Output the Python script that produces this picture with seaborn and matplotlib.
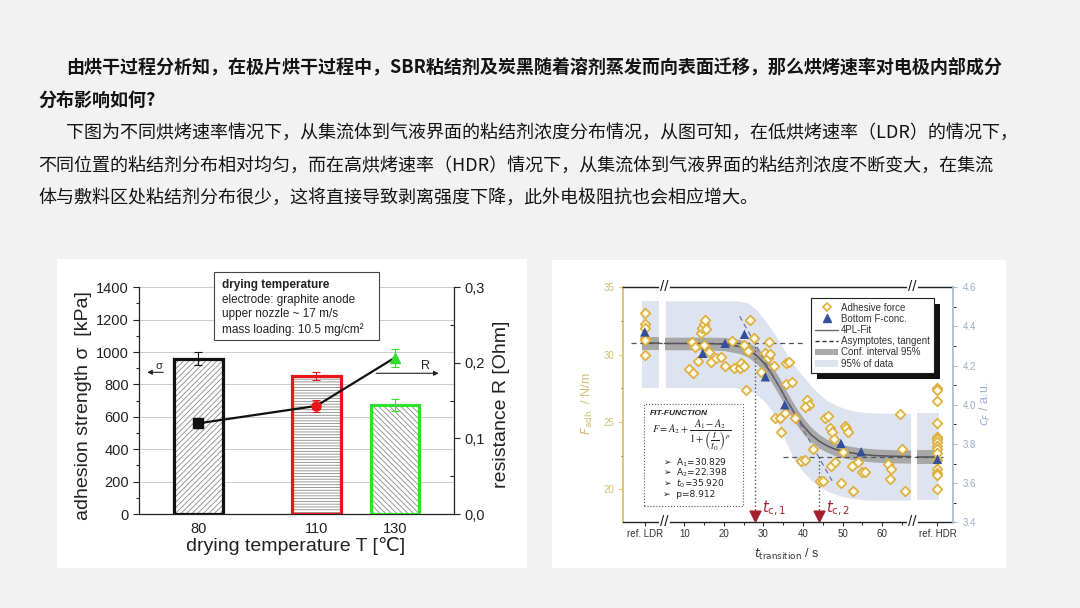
import matplotlib
matplotlib.use("Agg")
import matplotlib.pyplot as plt
from matplotlib.patches import Rectangle, Patch
from matplotlib.lines import Line2D
from matplotlib.ticker import MultipleLocator, FixedLocator
from matplotlib.transforms import IdentityTransform
import seaborn as sns
import pandas as pd

sns.set_theme(style="ticks")
plt.rcParams['font.family'] = ['Liberation Sans', 'DejaVu Sans']
plt.rcParams['hatch.linewidth'] = 0.6

W, H = 1080, 608


def fx(x):
    return x / W


def fy(y):
    return 1 - y / H


# slide text
text_lines = [
    "由烘干过程分析知，在极片烘干过程中，SBR粘结剂及炭黑随着溶剂蒸发而向表面迁移，那么烘烤速率对电极内部成分",
    "分布影响如何?",
    "下图为不同烘烤速率情况下，从集流体到气液界面的粘结剂浓度分布情况，从图可知，在低烘烤速率（LDR）的情况下，",
    "不同位置的粘结剂分布相对均匀，而在高烘烤速率（HDR）情况下，从集流体到气液界面的粘结剂浓度不断变大，在集流",
    "体与敷料区处粘结剂分布很少，这将直接导致剥离强度下降，此外电极阻抗也会相应增大。",
]
text_x = [66, 38, 66, 38, 38]
text_y = [67, 100, 133, 166, 198]
text_bold = [True, True, False, False, False]

# left chart: adhesion strength and resistance vs drying temperature
temps = [80, 110, 130]
strength = [960, 855, 675]
strength_err = [38, 25, 37]
resist = [0.120, 0.143, 0.207]
resist_err = [0.0065, 0.008, 0.012]
bar_colors = ['#111111', '#e8151b', '#2fe02f']
bar_hatches = ['//////', '------', '\\\\\\\\\\\\']
res_markers = ['s', 'o', '^']
info_lines = ["drying temperature", "electrode: graphite anode",
              "upper nozzle ~ 17 m/s", "mass loading: 10.5 mg/cm²"]

# right chart: adhesive force vs transition time
adh_t = [0, 0, 0, 0, 0, 0,
         11.1, 12.3, 12.0, 12.6, 13.4, 14.3, 14.5, 14.9, 15.3, 15.5, 15.1, 16.35,
         16.8, 17.9, 19.4, 20.2, 22.0, 22.5, 25.0, 24.0, 24.4, 25.05, 25.7, 26.5,
         27.6, 26.2, 29.5, 30.3, 31.1, 31.6, 31.4, 32.7, 35.8, 36.4, 35.8, 37.1,
         40.9, 41.5, 40.5, 32.8, 34.1, 35.4, 34.55, 37.9, 45.5, 46.4, 46.8, 47.4,
         47.8, 50.6, 51.0, 51.3, 42.6, 39.6, 40.5, 50.2, 47.2, 48.0, 52.3, 54.0,
         44.4, 45.1, 49.5, 52.7, 55.0, 55.7, 61.4, 62.2, 62.0, 64.4, 65.0, 65.8,
         74, 74, 74, 74, 74, 74, 74, 74, 74, 74, 74, 74, 74, 74, 74]
adh_f = [33.1, 32.25, 32.0, 31.2, 31.1, 29.97,
         28.9, 28.6, 30.96, 30.6, 29.55, 31.6, 31.95, 32.3, 32.6, 31.9, 30.7, 30.22,
         29.45, 29.77, 29.85, 29.16, 31.0, 29.0, 30.7, 29.0, 29.36, 29.18, 27.38, 32.6,
         31.26, 30.3, 28.7, 30.1, 29.73, 30.03, 30.96, 29.18, 29.36, 29.48, 27.8, 27.95,
         26.63, 26.26, 26.14, 25.3, 25.3, 25.65, 24.28, 25.27, 25.3, 25.45, 24.53, 24.28,
         23.74, 24.73, 24.53, 24.28, 23.0, 22.1, 22.15, 22.8, 21.75, 22.05, 21.7, 22.05,
         20.6, 20.6, 20.5, 19.9, 21.3, 21.3, 21.9, 21.5, 20.8, 25.6, 23.0, 19.9,
         27.55, 27.4, 26.55, 24.9, 23.9, 23.75, 23.5, 23.2, 23.0, 22.7, 22.2, 21.5,
         21.2, 21.05, 20.0]
conc_t = [0, 14.65, 20.3, 25.2, 30.5, 35.4, 49.6, 54.7, 74]
conc_c = [4.372, 4.263, 4.314, 4.360, 4.143, 4.000, 3.803, 3.760, 3.722]

fit_t = [5, 15, 20, 24, 26, 28, 30, 32, 34, 36, 38, 40, 42, 44, 46, 48, 50, 54, 58, 62, 67.2]
fit_f = [30.83, 30.83, 30.78, 30.60, 30.38, 30.00, 29.42, 28.61, 27.63, 26.57, 25.58,
         24.73, 24.07, 23.59, 23.24, 22.99, 22.82, 22.62, 22.51, 22.46, 22.43]
conf_hi = [31.30, 31.30, 31.28, 31.12, 30.93, 30.60, 30.05, 29.25, 28.28, 27.20, 26.20,
           25.33, 24.62, 24.10, 23.72, 23.47, 23.30, 23.10, 23.00, 22.95, 22.92]
conf_lo = [30.36, 30.36, 30.30, 30.08, 29.83, 29.40, 28.80, 27.97, 26.98, 25.94, 24.96,
           24.13, 23.52, 23.08, 22.76, 22.51, 22.34, 22.14, 22.02, 21.97, 21.94]
band_t = [5.2, 23, 26, 28, 30, 32, 34, 36, 38, 40, 42, 44, 46, 48, 50, 53, 56, 60, 67.2]
band_hi = [34.0, 34.0, 33.85, 33.4, 32.7, 31.9, 31.0, 30.0, 29.1, 28.4, 27.7, 27.1,
           26.6, 26.3, 26.05, 25.8, 25.7, 25.65, 25.65]
band_lo = [27.55, 27.55, 27.4, 27.1, 26.6, 25.9, 24.7, 23.3, 22.1, 21.3, 20.7, 20.2,
           19.9, 19.65, 19.45, 19.3, 19.2, 19.2, 19.2]
ldr_span, hdr_span = [-0.6, 3.7], [68.8, 74.5]
ldr_band, hdr_band = [27.55, 34.0], [19.2, 25.65]
ldr_conf, hdr_conf = [30.35, 31.3], [21.9, 22.9]
A1, A2 = 30.83, 22.40
tangent_t = [24.0, 47.6]
tangent_f = [32.85, 20.5]
tc = [27.86, 43.98]
x_tick_pos = [0, 10, 20, 30, 40, 50, 60, 74]
x_tick_lab = ['ref. LDR', '10', '20', '30', '40', '50', '60', 'ref. HDR']

gold = '#dcc263'
gold_txt = '#cfc070'
steel = '#a9bcd6'
band_col = '#dde3ef'
conf_col = '#a8a8a8'

fig = plt.figure(figsize=(10.8, 6.08), dpi=100, facecolor='#f2f2f2')

# white panels behind the two charts
fig.add_artist(Rectangle((fx(57), fy(568)), fx(527) - fx(57), fy(259) - fy(568),
                         transform=fig.transFigure, fc='white', ec='none', zorder=-1))
fig.add_artist(Rectangle((fx(552), fy(568)), fx(1006) - fx(552), fy(260.5) - fy(568),
                         transform=fig.transFigure, fc='white', ec='none', zorder=-1))

for line, x, y, b in zip(text_lines, text_x, text_y, text_bold):
    fig.text(fx(x), fy(y), line, fontsize=13, color='#141414', va='center', ha='left',
             family=['Noto Sans CJK SC', 'DejaVu Sans'],
             fontweight='bold' if b else 'normal')

# ---------- left chart ----------
ax1 = fig.add_axes([fx(139.3), fy(514), (454 - 139.3) / W, (514 - 287.3) / H])
df1 = pd.DataFrame({'T': temps, 'sigma': strength})
sns.barplot(data=df1, x='T', y='sigma', native_scale=True, width=0.62, color='white',
            errorbar=None, ax=ax1, zorder=2)
for patch, hatch in zip(ax1.patches, bar_hatches):
    patch.set_facecolor('white')
    patch.set_hatch(hatch)
    patch.set_edgecolor('#8a8a8a')
    patch.set_linewidth(0)
ax1.bar(temps, strength, width=12.4, fill=False, edgecolor=bar_colors, linewidth=2.3, zorder=3)
for t, s, e, c in zip(temps, strength, strength_err, bar_colors):
    ax1.errorbar(t, s, yerr=e, color=c, capsize=3, elinewidth=0.8, capthick=0.8, zorder=4)

ax1.set_xlim(65, 145)
ax1.set_ylim(0, 1400)
ax1.set_xticks(temps)
ax1.yaxis.set_major_locator(MultipleLocator(200))
ax1.yaxis.set_minor_locator(MultipleLocator(100))
ax1.set_axisbelow(True)
ax1.yaxis.grid(True, color='#cccccc', lw=0.7)
ax1.tick_params(axis='both', labelsize=10.5, colors='#222', length=4, width=0.8)
ax1.tick_params(axis='y', which='minor', length=2.5, width=0.8)
ax1.tick_params(axis='x', length=0, pad=6)
for sp in ['top', 'right']:
    ax1.spines[sp].set_visible(False)
for sp in ['left', 'bottom']:
    ax1.spines[sp].set_color('#222')
    ax1.spines[sp].set_linewidth(0.9)
ax1.set_xlabel('drying temperature T [℃]', fontsize=14, color='#222')
ax1.set_ylabel('adhesion strength σ  [kPa]', fontsize=14, color='#222')
ax1.xaxis.set_label_coords(0.495, -0.1)
ax1.yaxis.set_label_coords(-0.15, 0.478)

ax1.annotate('', xy=(66.3, 875), xytext=(71.8, 875),
             arrowprops=dict(arrowstyle='-|>', color='#222', lw=0.8, mutation_scale=7))
ax1.text(70, 912, 'σ', fontsize=8, color='#222', ha='center', va='center')
ax1.annotate('', xy=(141.8, 869), xytext=(124.5, 869),
             arrowprops=dict(arrowstyle='-|>', color='#222', lw=0.8, mutation_scale=7))
ax1.text(137.8, 912, 'R', fontsize=9, color='#222', ha='center', va='center')

ax1r = ax1.twinx()
sns.lineplot(x=temps, y=resist, ax=ax1r, color='#111', lw=1.6, zorder=3)
for t, r, e, c, m in zip(temps, resist, resist_err, bar_colors, res_markers):
    ax1r.errorbar(t, r, yerr=e, fmt=m, color=c, ms=6.5, capsize=3, elinewidth=0.8,
                  capthick=0.8, zorder=4)
ax1r.set_ylim(0, 0.3)
ax1r.yaxis.set_major_locator(FixedLocator([0, 0.1, 0.2, 0.3]))
ax1r.set_yticklabels(['0,0', '0,1', '0,2', '0,3'])
ax1r.yaxis.set_minor_locator(MultipleLocator(0.05))
ax1r.tick_params(axis='y', labelsize=10.5, colors='#222', length=4, width=0.8)
ax1r.tick_params(axis='y', which='minor', direction='in', length=3, width=0.8)
for sp in ['top', 'left', 'bottom']:
    ax1r.spines[sp].set_visible(False)
ax1r.spines['right'].set_color('#222')
ax1r.spines['right'].set_linewidth(0.9)
ax1r.set_ylabel('resistance R [Ohm]', fontsize=14, color='#222')
ax1r.yaxis.set_label_coords(1.125, 0.485)

# info box over the top of the left chart
fig.add_artist(Rectangle((fx(214), fy(339.5)), fx(379) - fx(214), fy(271.7) - fy(339.5),
                         transform=fig.transFigure, fc='white', ec='#444', lw=0.8, zorder=10))
for i, s in enumerate(info_lines):
    fig.text(fx(222.5), fy(285 + 14.7 * i), s, fontsize=8.5, color='#222', va='center',
             ha='left', fontweight='bold' if i == 0 else 'normal', zorder=11)

# ---------- right chart ----------
ax2 = fig.add_axes([fx(623), fy(522.3), (953.3 - 623) / W, (522.3 - 287.3) / H])
ax2.set_facecolor('white')
ax2.fill_between(band_t, band_lo, band_hi, color=band_col, lw=0, zorder=1)
ax2.fill_between(ldr_span, ldr_band[0], ldr_band[1], color=band_col, lw=0, zorder=1)
ax2.fill_between(hdr_span, hdr_band[0], hdr_band[1], color=band_col, lw=0, zorder=1)
ax2.fill_between(fit_t, conf_lo, conf_hi, color=conf_col, lw=0, zorder=2)
ax2.fill_between(ldr_span, ldr_conf[0], ldr_conf[1], color=conf_col, lw=0, zorder=2)
ax2.fill_between(hdr_span, hdr_conf[0], hdr_conf[1], color=conf_col, lw=0, zorder=2)
sns.lineplot(x=fit_t, y=fit_f, ax=ax2, color='#555555', lw=1.1, zorder=3)
ax2.plot(ldr_span, [A1, A1], color='#555555', lw=1.1, zorder=3)
ax2.plot(hdr_span, [A2, A2], color='#555555', lw=1.1, zorder=3)
ax2.plot([-3.5, 40.5], [A1, A1], color='#555', lw=0.9, ls=(0, (4, 3)), zorder=3)
ax2.plot([35, 75.5], [A2, A2], color='#555', lw=0.9, ls=(0, (4, 3)), zorder=3)
ax2.plot(tangent_t, tangent_f, color='#6f6fa6', lw=0.9, ls=(0, (4, 3)), zorder=3)
ax2.plot([tc[0], tc[0]], [A1, 18.3], color='#555', lw=1, ls=':', zorder=3)
ax2.plot([tc[1], tc[1]], [A2, 18.3], color='#555', lw=1, ls=':', zorder=3)
sns.scatterplot(x=adh_t, y=adh_f, marker='D', s=24, color='#fffbe6', edgecolor='#deb040',
                linewidth=1.25, ax=ax2, zorder=4)
ax2.scatter(tc, [18.0, 18.0], marker='v', s=60, color='#a3202c', zorder=5, clip_on=False)
ax2.text(29.6, 17.85, r'$t_{\rm c,1}$', fontsize=10.5, color='#a3202c', ha='left', va='bottom')
ax2.text(45.8, 17.85, r'$t_{\rm c,2}$', fontsize=10.5, color='#a3202c', ha='left', va='bottom')

ax2.set_xlim(-5.5, 78)
ax2.set_ylim(17.55, 35)
ax2.set_xticks(x_tick_pos)
ax2.set_xticklabels(x_tick_lab)
ax2.xaxis.set_minor_locator(FixedLocator([5, 15, 25, 35, 45, 55, 65]))
ax2.yaxis.set_major_locator(FixedLocator([20, 25, 30, 35]))
ax2.yaxis.set_minor_locator(FixedLocator([17.5, 22.5, 27.5, 32.5]))
ax2.tick_params(axis='x', labelsize=7, colors='#333', length=3, width=0.8, pad=2)
ax2.tick_params(axis='x', which='minor', length=1.8, width=0.7)
ax2.tick_params(axis='y', labelsize=7, colors=gold, labelcolor=gold_txt, length=3, width=0.8)
ax2.tick_params(axis='y', which='minor', length=1.8, width=0.7)
ax2.spines['left'].set_color(gold)
ax2.spines['left'].set_linewidth(1.3)
ax2.spines['right'].set_visible(False)
for sp in ['top', 'bottom']:
    ax2.spines[sp].set_color('#222')
    ax2.spines[sp].set_linewidth(1.0)
ax2.set_xlabel(r'$t_{\rm transition}$ / s', fontsize=9, color='#333')
ax2.xaxis.set_label_coords(0.496, -0.105)
ax2.set_ylabel(r'$F_{\rm adh.}$ / N/m', fontsize=9, color=gold_txt)
ax2.yaxis.set_label_coords(-0.085, 0.506)

# fit function box
ax2.add_patch(Rectangle((0.064, 0.069), 0.30, 0.434, transform=ax2.transAxes, fill=False,
                        ec='#555', lw=0.8, ls=':', zorder=6))
ax2.text(0.082, 0.461, 'FIT-FUNCTION', transform=ax2.transAxes, fontsize=6, fontweight='bold',
         fontstyle='italic', color='#222', ha='left', va='center', zorder=7)
ax2.text(0.208, 0.372, r'$F = A_2 + \dfrac{A_1 - A_2}{1 + \left(\dfrac{t}{t_0}\right)^p}$',
         transform=ax2.transAxes, fontsize=7.5, color='#222', ha='center', va='center',
         math_fontfamily='stix', zorder=7)
fit_params = ['A$_1$=30.829', 'A$_2$=22.398', '$t_0$=35.920', 'p=8.912']
for i, s in enumerate(fit_params):
    ax2.text(0.122, 0.255 - 0.0455 * i, '➢  ' + s, transform=ax2.transAxes, fontsize=6.5,
             color='#222', ha='left', va='center', family=['DejaVu Sans'], zorder=7)

ax2r = ax2.twinx()
sns.scatterplot(x=conc_t, y=conc_c, marker='^', s=46, color='#34509a', edgecolor='none',
                ax=ax2r, zorder=5)
ax2r.set_ylim(3.4, 4.6)
ax2r.yaxis.set_major_locator(MultipleLocator(0.2))
ax2r.yaxis.set_minor_locator(MultipleLocator(0.1))
ax2r.yaxis.set_major_formatter(matplotlib.ticker.FormatStrFormatter('%.1f'))
ax2r.tick_params(axis='y', labelsize=7, colors=steel, labelcolor='#9aadca', length=3, width=0.8)
ax2r.tick_params(axis='y', which='minor', length=1.8, width=0.7)
for sp in ['top', 'left', 'bottom']:
    ax2r.spines[sp].set_visible(False)
ax2r.spines['right'].set_color(steel)
ax2r.spines['right'].set_linewidth(1.3)
ax2r.set_ylabel(r'$c_F$ / a.u.', fontsize=9, color='#9aadca')
ax2r.yaxis.set_label_coords(1.075, 0.506)

# axis breaks
for bx in [4.9, 67.7]:
    for by in [0, 1]:
        ax2r.plot([bx - 0.9, bx + 0.9], [by, by], transform=ax2r.get_xaxis_transform(),
                  color='white', lw=3, clip_on=False, zorder=10)
        ax2r.text(bx, by, '//', transform=ax2r.get_xaxis_transform(), fontsize=11,
                  color='#222', ha='center', va='center', zorder=11, clip_on=False)

handles = [
    Line2D([], [], marker='D', ls='none', mfc='#fffbe6', mec='#deb040', ms=4.5, mew=1.2,
           label='Adhesive force'),
    Line2D([], [], marker='^', ls='none', color='#34509a', ms=5.5, label='Bottom F-conc.'),
    Line2D([], [], color='#6a6a6a', lw=1, label='4PL-Fit'),
    Line2D([], [], color='#333', lw=1, ls=(0, (3, 2)), label='Asymptotes, tangent'),
    Patch(fc=conf_col, ec='none', label='Conf. interval 95%'),
    Patch(fc=band_col, ec='none', label='95% of data'),
]
leg = ax2r.legend(handles=handles, loc='upper left', bbox_to_anchor=(0.568, 0.953),
                  frameon=True, fancybox=False, edgecolor='#222', framealpha=1,
                  fontsize=7, labelspacing=0.12, handlelength=2.4, handletextpad=0.3,
                  borderpad=0.45, borderaxespad=0)
leg.get_frame().set_linewidth(0.8)
for txt in leg.get_texts():
    txt.set_color('#333')
leg.set_zorder(20)

fig.canvas.draw()
bb = leg.get_window_extent()
ax2r.add_artist(Rectangle((bb.x0 + 6, bb.y0 - 6), bb.width, bb.height,
                          transform=IdentityTransform(), fc='#111', ec='none', zorder=19))

fig.savefig('out.png', dpi=100, facecolor=fig.get_facecolor())
